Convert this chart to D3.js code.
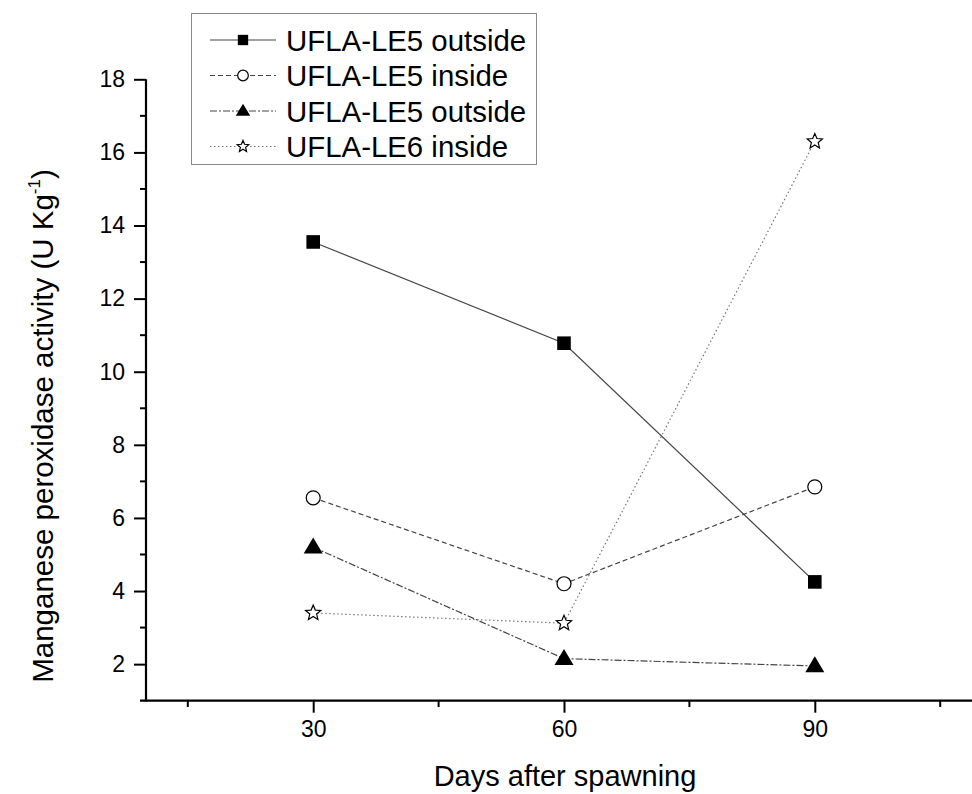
<!DOCTYPE html>
<html>
<head>
<meta charset="utf-8">
<script src="https://cdn.jsdelivr.net/npm/d3@7"></script>
<style>
  body { margin: 0; background: #fff; }
  svg { display: block; font-family: "Liberation Sans", Arial, sans-serif; }
</style>
</head>
<body>
<svg id="chart" width="972" height="794"></svg>
<script>
/* ── Data ─────────────────────────────────────────────────────── */
const days = [30, 60, 90];
const le5Outside = [13.55, 10.78, 4.25];
const le5Inside = [6.55, 4.2, 6.85];
const le5Outside2 = [5.2, 2.15, 1.95];
const le6Inside = [3.4, 3.12, 16.3];
const seriesNames = ["UFLA-LE5 outside", "UFLA-LE5 inside", "UFLA-LE5 outside", "UFLA-LE6 inside"];
const yMajorTicks = [2, 4, 6, 8, 10, 12, 14, 16, 18];
const yMinorTicks = [3, 5, 7, 9, 11, 13, 15, 17];
const xMajorTicks = [30, 60, 90];
const xMinorTicks = [15, 45, 75, 105];

/* ── Styles per series ────────────────────────────────────────── */
const series = [
  { name: seriesNames[0], values: le5Outside, marker: "square", dash: null, stroke: "#444" },
  { name: seriesNames[1], values: le5Inside, marker: "circle", dash: "5,3", stroke: "#444" },
  { name: seriesNames[2], values: le5Outside2, marker: "triangle", dash: "7,2,2,2", stroke: "#444" },
  { name: seriesNames[3], values: le6Inside, marker: "star", dash: "1.5,2.5", stroke: "#777" },
];

const svg = d3.select("#chart");

const x = d3.scaleLinear().domain([10, 110]).range([146, 982]);
const y = d3.scaleLinear().domain([1, 18]).range([700.7, 79.3]);

/* Marker drawing: s is a scale factor (1 = plot, smaller for legend) */
function drawMarker(g, kind, cx, cy, s) {
  if (kind === "square") {
    const h = 6.8 * s;
    g.append("rect").attr("x", cx - h).attr("y", cy - h)
      .attr("width", 2 * h).attr("height", 2 * h).attr("fill", "#000");
  } else if (kind === "circle") {
    g.append("circle").attr("cx", cx).attr("cy", cy).attr("r", 7 * s)
      .attr("fill", "#fff").attr("stroke", "#000").attr("stroke-width", 1.2);
  } else if (kind === "triangle") {
    const w = 9.5 * s, h = 16 * s;
    g.append("path")
      .attr("d", `M${cx},${cy - h * 0.6}L${cx + w},${cy + h * 0.4}L${cx - w},${cy + h * 0.4}Z`)
      .attr("fill", "#000");
  } else if (kind === "star") {
    const R = 8 * s, r = 3.6 * s;
    const pts = d3.range(10).map(i => {
      const a = -Math.PI / 2 + i * Math.PI / 5;
      const rr = i % 2 === 0 ? R : r;
      return [cx + rr * Math.cos(a), cy + rr * Math.sin(a)];
    });
    g.append("path").attr("d", "M" + pts.join("L") + "Z")
      .attr("fill", "#fff").attr("stroke", "#000").attr("stroke-width", 1.2);
  }
}

/* ── Axes ─────────────────────────────────────────────────────── */
const yAxis = svg.append("g").attr("transform", "translate(146,0)")
  .call(d3.axisLeft(y).tickValues(yMajorTicks).tickSize(12).tickSizeOuter(0).tickPadding(9));
yAxis.select(".domain").remove();
yAxis.selectAll(".tick line").attr("stroke", "#000").attr("stroke-width", 2);
yAxis.selectAll(".tick text").attr("font-size", 23).attr("fill", "#000");

svg.append("g").selectAll("line").data(yMinorTicks).join("line")
  .attr("x1", 140).attr("x2", 146)
  .attr("y1", d => y(d)).attr("y2", d => y(d))
  .attr("stroke", "#000").attr("stroke-width", 2);

const xAxis = svg.append("g").attr("transform", "translate(0,700.7)")
  .call(d3.axisBottom(x).tickValues(xMajorTicks).tickSize(12).tickSizeOuter(0).tickPadding(8));
xAxis.select(".domain").remove();
xAxis.selectAll(".tick line").attr("stroke", "#000").attr("stroke-width", 2);
xAxis.selectAll(".tick text").attr("font-size", 23).attr("fill", "#000");

svg.append("g").selectAll("line").data(xMinorTicks).join("line")
  .attr("x1", d => x(d)).attr("x2", d => x(d))
  .attr("y1", 700.7).attr("y2", 707)
  .attr("stroke", "#000").attr("stroke-width", 2);

/* axis lines */
svg.append("line").attr("x1", 146).attr("x2", 146).attr("y1", y(18)).attr("y2", 701.7)
  .attr("stroke", "#000").attr("stroke-width", 2.2);
svg.append("line").attr("x1", 140).attr("x2", 972).attr("y1", 700.7).attr("y2", 700.7)
  .attr("stroke", "#000").attr("stroke-width", 2.2);

/* ── Axis titles ──────────────────────────────────────────────── */
svg.append("text").attr("x", 565).attr("y", 786)
  .attr("text-anchor", "middle").attr("font-size", 29).text("Days after spawning");

const yt = svg.append("text")
  .attr("transform", "translate(53,426) rotate(-90)")
  .attr("text-anchor", "middle").attr("font-size", 29.5);
yt.append("tspan").text("Manganese peroxidase activity (U Kg");
yt.append("tspan").attr("font-size", 17).attr("dy", -13).text("-1");
yt.append("tspan").attr("dy", 13).text(")");

/* ── Lines and markers ────────────────────────────────────────── */
const line = d3.line().x(d => x(d[0])).y(d => y(d[1]));
series.forEach(s => {
  const pts = days.map((d, i) => [d, s.values[i]]);
  svg.append("path").datum(pts).attr("d", line)
    .attr("fill", "none").attr("stroke", s.stroke).attr("stroke-width", 1.2)
    .attr("stroke-dasharray", s.dash);
});
series.forEach(s => {
  const g = svg.append("g");
  days.forEach((d, i) => drawMarker(g, s.marker, x(d), y(s.values[i]), 1));
});

/* ── Legend ───────────────────────────────────────────────────── */
const legend = svg.append("g");
legend.append("rect").attr("x", 191.5).attr("y", 13.5).attr("width", 345).attr("height", 151)
  .attr("fill", "#fff").attr("stroke", "#888").attr("stroke-width", 1);
series.forEach((s, i) => {
  const cy = 40 + i * 35.5;
  legend.append("line").attr("x1", 210).attr("x2", 276).attr("y1", cy).attr("y2", cy)
    .attr("stroke", s.stroke).attr("stroke-width", 1.2).attr("stroke-dasharray", s.dash);
  drawMarker(legend, s.marker, 243, cy, 0.76);
  legend.append("text").attr("x", 286).attr("y", cy + 10.5)
    .attr("font-size", 29.4).text(s.name);
});
</script>
</body>
</html>
